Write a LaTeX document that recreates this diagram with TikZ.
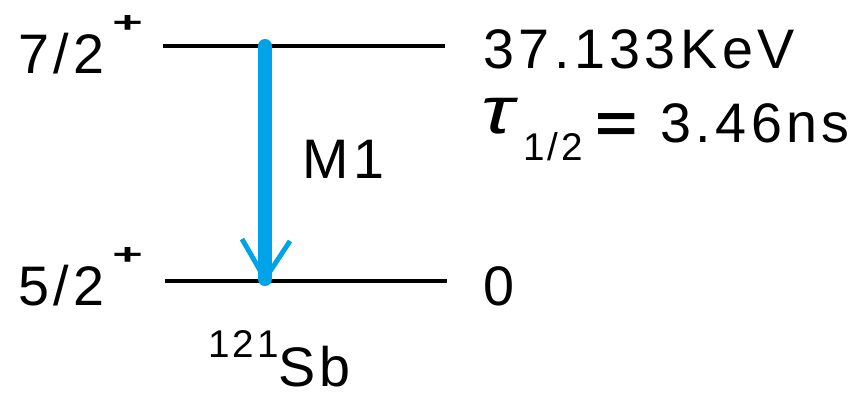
\documentclass[tikz,border=0pt]{standalone}
\usepackage{fontspec}
\setmainfont{Liberation Sans}[LetterSpace=8]
\usetikzlibrary{calc}
\definecolor{gammablue}{RGB}{0,162,232}

\begin{document}
\begin{tikzpicture}[x=0.02cm, y=-0.02cm,
    level/.style={line width=2.3pt, black},
    gamma/.style={line width=8pt, gammablue},
    barb/.style={line width=2.8pt, gammablue},
    label/.style={inner sep=0pt, anchor=base west, font=\fontsize{31.7}{38}\selectfont},
    small/.style={inner sep=0pt, anchor=base west, font=\fontsize{22}{26}\selectfont}
]
\useasboundingbox (0,0) rectangle (864,396);

% level lines
\coordinate (upL) at (163,46);
\coordinate (upR) at (445,46);
\coordinate (gsL) at (165,281);
\coordinate (gsR) at (447,281);
\draw[level] (upL) -- (upR);
\draw[level] (gsL) -- (gsR);

% spins
\node[label] (spinup) at (18,73) {7/2};
\node[small] (plusup) at (112,32) {\scalebox{1.35}[0.75]{\textbf{+}}};
\node[label] (spings) at (18,305) {5/2};
\node[small] (plusgs) at (112,264) {\scalebox{1.35}[0.75]{\textbf{+}}};

% energies
\node[label] (eup) at (483,68) {37.133KeV};
\node[label, font=\fontsize{38}{42}\selectfont] (tau) at (481,133) {\scalebox{1.3}[1]{\textit{τ}}};
\node[small] (half) at (523,160) {1/2};
\node[label] (eq) at (595,142) {\scalebox{1.3}[1]{\textbf{=}}};
\node[label] (thalf) at (660,142) {3.46ns};
\node[label] (egs) at (483,305) {0};

% transition
\coordinate (start) at (265,46);
\coordinate (tip) at (265,279);
\draw[gamma, line cap=round] (start) -- (tip);
\draw[barb] ($(tip)+(-23,-40)$) -- (tip) -- ($(tip)+(25,-38)$);
\node[label] (mult) at (302,178) {M1};

% nucleus
\node[small] (mass) at (208,357) {121};
\node[label] (elem) at (278,386) {Sb};
\end{tikzpicture}
\end{document}
